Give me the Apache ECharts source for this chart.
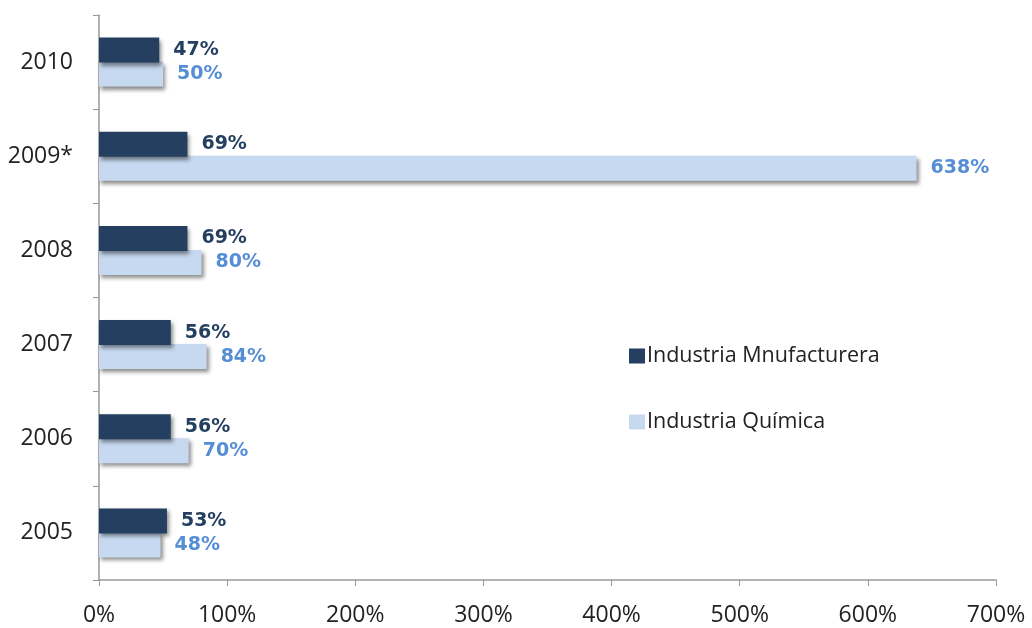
<!DOCTYPE html>
<html><head><meta charset="utf-8">
<script src="https://cdn.jsdelivr.net/npm/echarts@6/dist/echarts.min.js"></script>
<style>html,body{margin:0;padding:0;background:#fff}#c{width:1032px;height:628px}</style>
</head><body><div id="c"></div>
<script>
var categories = ['2005','2006','2007','2008','2009*','2010'];
var manufacturera = [53, 56, 56, 69, 69, 47];
var quimica = [48, 70, 84, 80, 638, 50];
var xTicks = [0,100,200,300,400,500,600,700];

var chart = echarts.init(document.getElementById('c'));
var shadow = {shadowColor:'rgba(0,0,0,0.45)', shadowBlur:4, shadowOffsetX:2, shadowOffsetY:3};
chart.setOption({
  animation:false,
  textStyle:{fontFamily:'Open Sans'},
  grid:{left:99, right:36, top:15, bottom:48},
  legend:{
    orient:'vertical', left:624, top:340, itemWidth:16, itemHeight:15, itemGap:44,
    icon:'rect', data:['Industria Mnufacturera','Industria Química'],
    textStyle:{fontSize:21.5, color:'#222', fontFamily:'Open Sans', padding:[0,0,0,-3]}
  },
  xAxis:{
    type:'value', min:0, max:700, interval:100,
    axisLine:{show:true, lineStyle:{color:'#999', width:1.5}},
    axisTick:{show:true, length:6, lineStyle:{color:'#999'}},
    splitLine:{show:false},
    axisLabel:{fontSize:23, color:'#222', margin:24, fontFamily:'Open Sans', formatter:function(v){return v+'%';}}
  },
  yAxis:{
    type:'category', data:categories,
    axisLine:{show:true, lineStyle:{color:'#999', width:1.5}},
    axisTick:{show:true, length:6, lineStyle:{color:'#999'}},
    axisLabel:{fontSize:23, color:'#222', margin:26, fontFamily:'Open Sans', padding:[0,0,6,0]}
  },
  series:[
    {name:'Industria Mnufacturera', type:'bar', data:manufacturera, barWidth:25, barGap:'-4%', z:3,
     itemStyle:Object.assign({color:'#243f60'}, shadow),
     label:{show:true, position:'right', distance:14, fontSize:19, fontWeight:'bold', color:'#243f60', fontFamily:'DejaVu Sans', formatter:'{c}%'}},
    {name:'Industria Química', type:'bar', data:quimica, barWidth:25, barGap:'-4%', z:2,
     itemStyle:Object.assign({color:'#c6d9f0'}, shadow),
     label:{show:true, position:'right', distance:14, fontSize:19, fontWeight:'bold', color:'#558ed5', fontFamily:'DejaVu Sans', formatter:'{c}%'}}
  ]
});
</script></body></html>
